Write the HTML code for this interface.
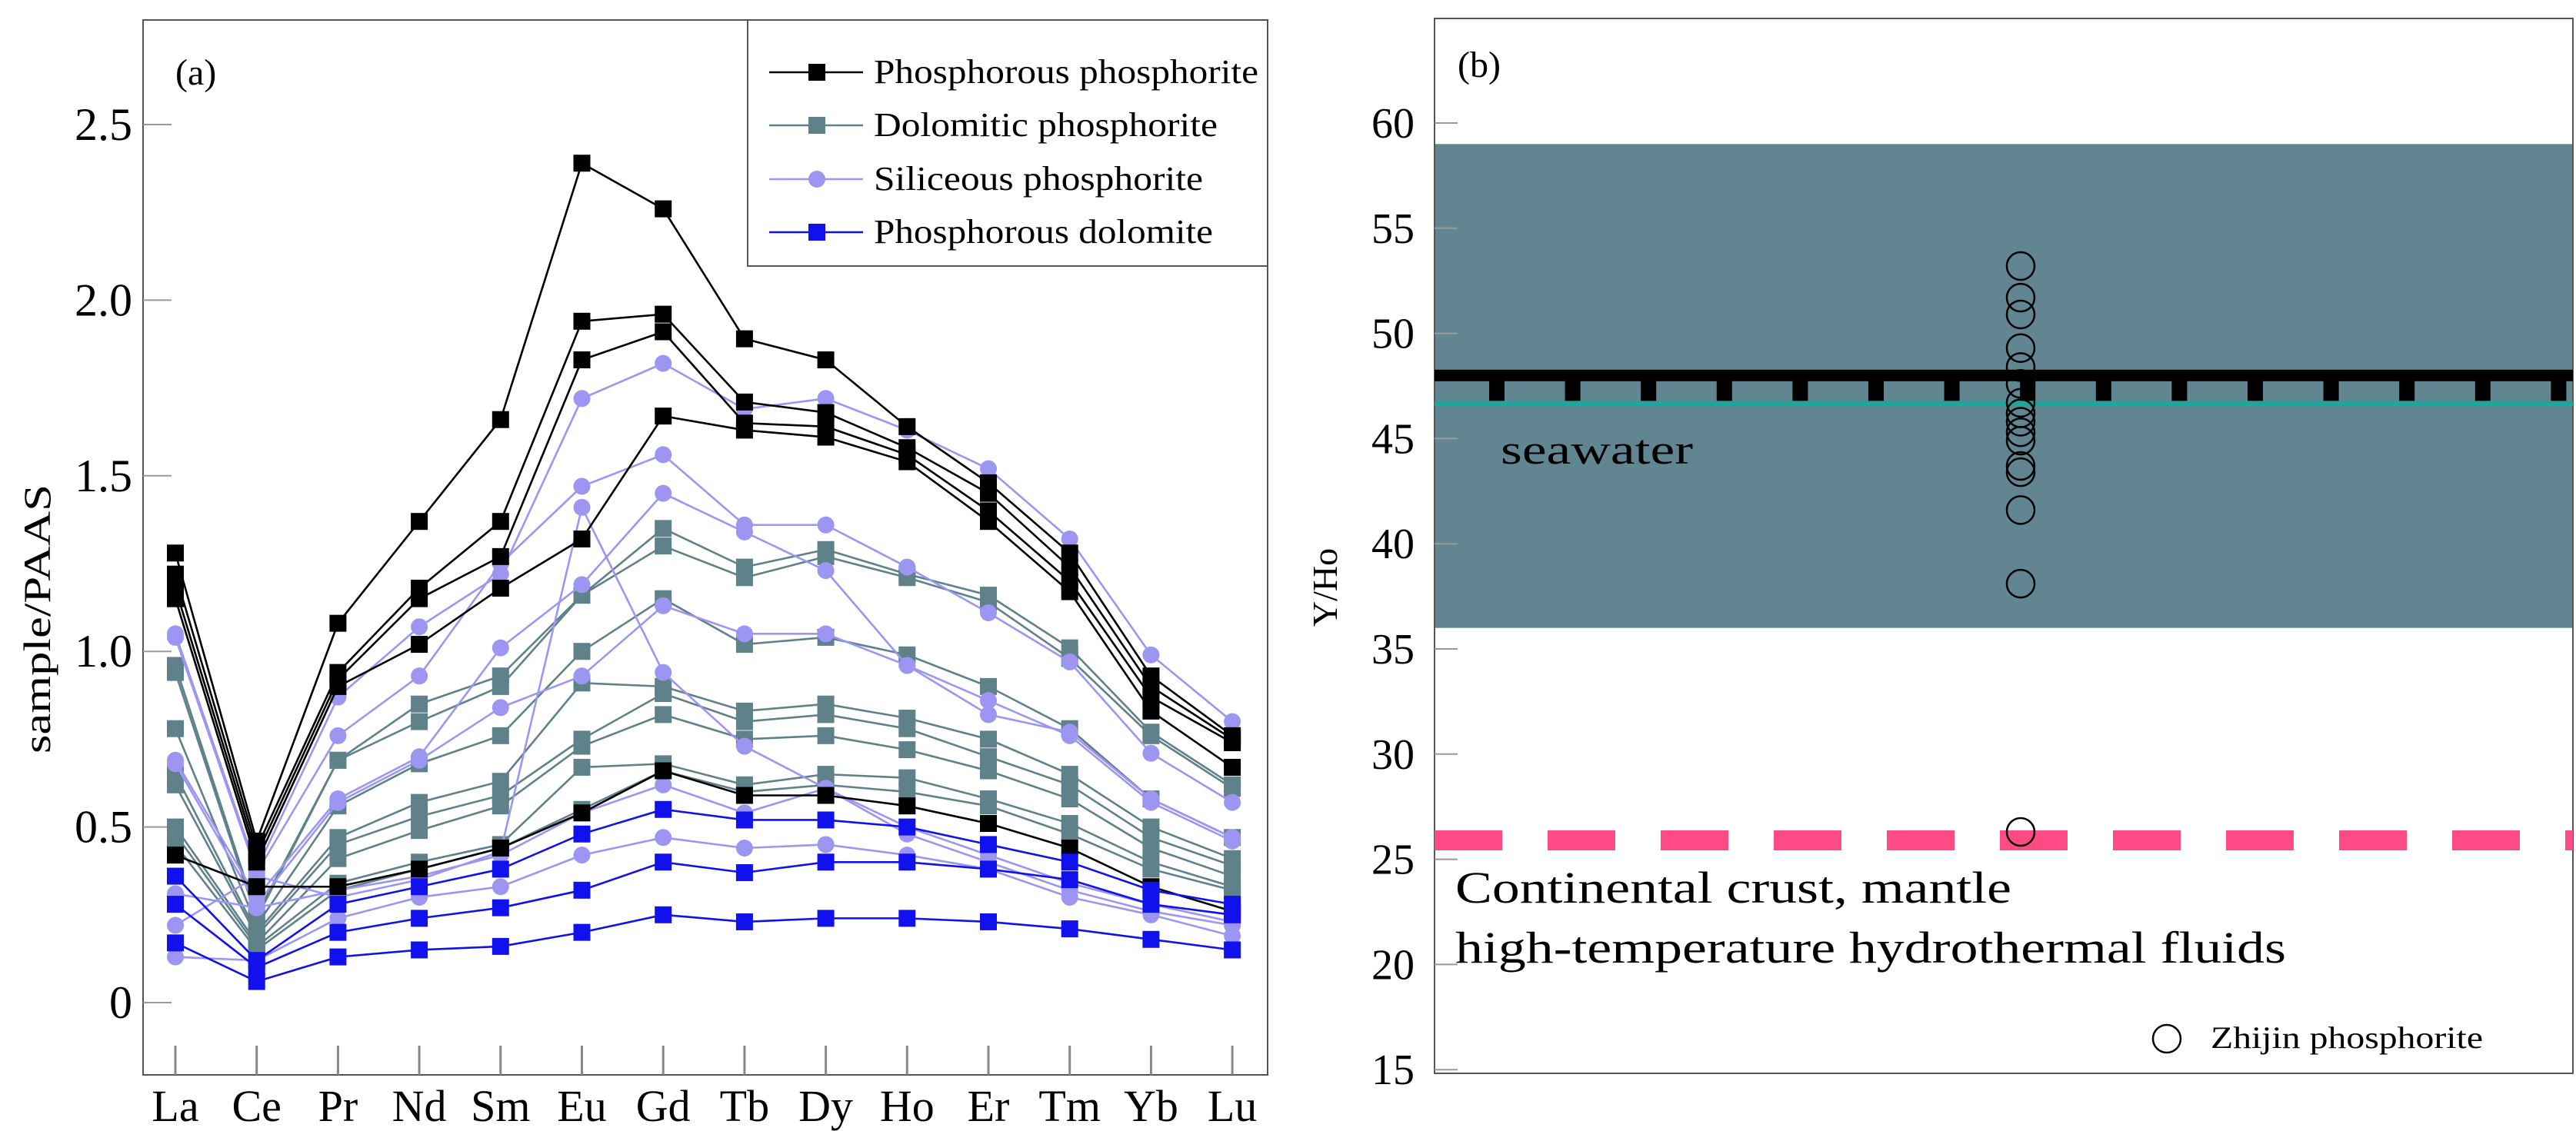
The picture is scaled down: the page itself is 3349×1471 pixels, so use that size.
<!DOCTYPE html>
<html><head><meta charset="utf-8"><style>
html,body{margin:0;padding:0;background:#fff;}
svg{display:block;font-family:"Liberation Serif","DejaVu Serif",serif;}
</style></head><body>
<svg id="chart" width="3349" height="1471" viewBox="0 0 3349 1471" xmlns="http://www.w3.org/2000/svg">
<g id="pa"></g>
<g id="pb"></g>
</svg>
<script>
// ===== Panel (a) data =====
const elements = ["La","Ce","Pr","Nd","Sm","Eu","Gd","Tb","Dy","Ho","Er","Tm","Yb","Lu"];
const yTicksA = [0,0.5,1.0,1.5,2.0,2.5];
const yTickLabelsA = ["0","0.5","1.0","1.5","2.0","2.5"];
const dolomiticPhosphorite = [
 [0.96,0.25,0.69,0.85,0.93,1.16,1.35,1.24,1.29,1.22,1.16,1.01,0.77,0.62],
 [0.94,0.24,0.69,0.80,0.90,1.16,1.30,1.21,1.27,1.21,1.14,0.98,0.76,0.61],
 [0.78,0.22,0.56,0.68,0.76,1.00,1.15,1.02,1.04,0.99,0.90,0.78,0.58,0.47],
 [0.65,0.20,0.47,0.57,0.63,0.91,0.90,0.83,0.85,0.81,0.75,0.65,0.50,0.41],
 [0.62,0.19,0.45,0.53,0.59,0.75,0.88,0.80,0.82,0.78,0.70,0.62,0.47,0.39],
 [0.50,0.17,0.41,0.49,0.56,0.73,0.82,0.75,0.76,0.72,0.66,0.58,0.44,0.36],
 [0.48,0.16,0.34,0.40,0.45,0.67,0.68,0.62,0.65,0.64,0.58,0.51,0.40,0.33],
 [0.45,0.15,0.32,0.38,0.44,0.55,0.66,0.60,0.62,0.60,0.56,0.48,0.38,0.32]
];
const siliceousPhosphorite = [
 [1.05,0.38,0.87,1.07,1.22,1.72,1.82,1.69,1.72,1.63,1.52,1.32,0.99,0.80],
 [1.04,0.37,0.76,0.93,1.25,1.47,1.56,1.36,1.36,1.24,1.11,0.97,0.71,0.57],
 [0.69,0.30,0.58,0.70,1.01,1.19,1.45,1.34,1.23,0.96,0.82,0.77,0.58,0.47],
 [0.68,0.28,0.57,0.69,0.84,0.93,1.13,1.05,1.05,0.96,0.86,0.76,0.57,0.46],
 [0.22,0.36,0.30,0.35,0.43,1.41,0.94,0.73,0.61,0.48,0.40,0.32,0.26,0.22],
 [0.31,0.27,0.32,0.36,0.42,0.54,0.62,0.54,0.61,0.50,0.42,0.34,0.28,0.23],
 [0.13,0.12,0.24,0.30,0.33,0.42,0.47,0.44,0.45,0.42,0.38,0.30,0.25,0.19]
];
const phosphorousPhosphorite = [
 [1.28,0.46,1.08,1.37,1.66,2.39,2.26,1.89,1.83,1.64,1.48,1.28,0.93,0.76],
 [1.22,0.44,0.94,1.18,1.37,1.94,1.96,1.71,1.68,1.58,1.45,1.24,0.90,0.75],
 [1.18,0.42,0.92,1.15,1.27,1.83,1.91,1.65,1.64,1.56,1.40,1.20,0.87,0.74],
 [1.15,0.40,0.90,1.02,1.18,1.32,1.67,1.63,1.61,1.54,1.37,1.17,0.83,0.67],
 [0.42,0.33,0.33,0.38,0.44,0.54,0.66,0.59,0.59,0.56,0.51,0.44,0.33,0.26]
];
const phosphorousDolomite = [
 [0.36,0.12,0.28,0.33,0.38,0.48,0.55,0.52,0.52,0.50,0.45,0.40,0.32,0.28],
 [0.28,0.10,0.20,0.24,0.27,0.32,0.40,0.37,0.40,0.40,0.38,0.35,0.28,0.25],
 [0.17,0.06,0.13,0.15,0.16,0.20,0.25,0.23,0.24,0.24,0.23,0.21,0.18,0.15]
];
// ===== Panel (b) data =====
const yTicksB = [15,20,25,30,35,40,45,50,55,60];
const zhijinYHo = [53.2,51.7,50.9,49.3,48.4,47.6,46.7,46.2,45.8,45.3,44.9,43.7,43.4,41.6,38.1,26.3];
const seawaterBand = [36, 59];
const seawaterLine = [48.0];
const seawaterLine2 = [46.65];
const crustLine = [25.9];

const NS="http://www.w3.org/2000/svg";
function mk(parent, tag, attrs, text){
  const e=document.createElementNS(NS,tag);
  for(const k in attrs) e.setAttribute(k,attrs[k]);
  if(text!==undefined) e.textContent=text;
  parent.appendChild(e); return e;
}
// ----- Panel a -----
const pa=document.getElementById('pa');
const ax = i => 228 + i*105.7;
const ay = v => 1304 - v*456.8;
const A={l:186,r:1648,t:26,b:1398};
let e;
e=mk(pa,'rect',{x:A.l,y:A.t,width:A.r-A.l,height:A.b-A.t,fill:'none',stroke:'#555','stroke-width':2});


yTicksA.forEach((v,i)=>{
  e=mk(pa,'line',{x1:A.l,x2:A.l+37,y1:ay(v),y2:ay(v),stroke:'#999','stroke-width':2});
  
  
  e=mk(pa,'text',{x:172,y:ay(v)+20,'text-anchor':'end','font-size':60},yTickLabelsA[i]);
  
  
});
elements.forEach((n,i)=>{
  e=mk(pa,'line',{x1:ax(i),x2:ax(i),y1:A.b,y2:A.b-38,stroke:'#888','stroke-width':3});
  
  
  e=mk(pa,'text',{x:ax(i),y:1458,'text-anchor':'middle','font-size':58},n);
  
  
});
e=mk(pa,'text',{x:0,y:0,transform:'translate(65,805) rotate(-90)','text-anchor':'middle','font-size':50,textLength:350,lengthAdjust:'spacingAndGlyphs'},'sample/PAAS');


e=mk(pa,'text',{x:228,y:110,'font-size':48},'(a)');



function drawSeries(arr,color,shape,name){
  arr.forEach(s=>{
    const g=mk(pa,'g',{});
    
    
    const pts=s.map((v,i)=>ax(i)+','+ay(v)).join(' ');
    e=mk(g,'polyline',{points:pts,fill:'none',stroke:color,'stroke-width':2.6});
    
    
    s.forEach((v,i)=>{
      if(shape==='sq') e=mk(g,'rect',{x:ax(i)-11,y:ay(v)-11,width:22,height:22,fill:color});
      else e=mk(g,'circle',{cx:ax(i),cy:ay(v),r:11,fill:color});
      
      
    });
  });
}
drawSeries(dolomiticPhosphorite,'#5f8189','sq','dolomitic-phosphorite');
drawSeries(siliceousPhosphorite,'#9c96f2','ci','siliceous-phosphorite');
drawSeries(phosphorousPhosphorite,'#000000','sq','phosphorous-phosphorite');
drawSeries(phosphorousDolomite,'#1111ee','sq','phosphorous-dolomite');

// legend
const lg=mk(pa,'g',{});


mk(lg,'rect',{x:972,y:26,width:676,height:320,fill:'#fff',stroke:'#555','stroke-width':2});
const legItems=[["Phosphorous phosphorite",'#000','sq',500],["Dolomitic phosphorite",'#5f8189','sq',447],["Siliceous phosphorite",'#9c96f2','ci',428],["Phosphorous dolomite",'#1111ee','sq',441]];
const legY=[94,163,233,302];
legItems.forEach((it,i)=>{
  const g=mk(lg,'g',{});
  
  
  mk(g,'line',{x1:1000,x2:1122,y1:legY[i],y2:legY[i],stroke:it[1],'stroke-width':2.6});
  if(it[2]==='sq') mk(g,'rect',{x:1051,y:legY[i]-11,width:22,height:22,fill:it[1]});
  else mk(g,'circle',{cx:1062,cy:legY[i],r:11,fill:it[1]});
  mk(g,'text',{x:1136,y:legY[i]+14,'font-size':44,textLength:it[3],lengthAdjust:'spacingAndGlyphs'},it[0]);
});

// ----- Panel b -----
const pb=document.getElementById('pb');
const B={l:1865,r:3345,t:24,b:1396};
const by = v => 160 + (60-v)*27.36;
e=mk(pb,'rect',{x:B.l,y:by(seawaterBand[1]),width:B.r-B.l,height:by(seawaterBand[0])-by(seawaterBand[1]),fill:'#618591'});


e=mk(pb,'rect',{x:B.l,y:B.t,width:B.r-B.l,height:B.b-B.t,fill:'none',stroke:'#555','stroke-width':2});


yTicksB.forEach(v=>{
  e=mk(pb,'line',{x1:B.l,x2:B.l+30,y1:by(v),y2:by(v),stroke:'#999','stroke-width':2});
  
  
  e=mk(pb,'text',{x:1839,y:by(v)+19,'text-anchor':'end','font-size':56},String(v));
  
  
});
e=mk(pb,'text',{x:0,y:0,transform:'translate(1738,764) rotate(-90)','text-anchor':'middle','font-size':46},'Y/Ho');


e=mk(pb,'text',{x:1895,y:100,'font-size':48},'(b)');


// seawater black line with teeth
e=mk(pb,'rect',{x:B.l,y:by(seawaterLine[0])-7.5,width:B.r-B.l,height:15,fill:'#000'});


for(let k=0;k<15;k++){
  e=mk(pb,'rect',{x:1946+k*98.6-10,y:by(seawaterLine[0]),width:20,height:33,fill:'#000'});
  
  
}
e=mk(pb,'line',{x1:B.l,x2:B.r,y1:by(seawaterLine2[0]),y2:by(seawaterLine2[0]),stroke:'#1aa79c','stroke-width':6});


e=mk(pb,'text',{x:1951,y:603,'font-size':54,textLength:250,lengthAdjust:'spacingAndGlyphs'},'seawater');


e=mk(pb,'line',{x1:B.l,x2:B.r,y1:by(crustLine[0]),y2:by(crustLine[0]),stroke:'#ff4b85','stroke-width':26,'stroke-dasharray':'88 59'});


zhijinYHo.forEach(v=>{
  e=mk(pb,'circle',{cx:2627,cy:by(v),r:18,fill:'none',stroke:'#000','stroke-width':2.5});
  
  
});
e=mk(pb,'text',{x:1892,y:1174,'font-size':58,textLength:723,lengthAdjust:'spacingAndGlyphs'},'Continental crust, mantle');


e=mk(pb,'text',{x:1892,y:1252,'font-size':58,textLength:1080,lengthAdjust:'spacingAndGlyphs'},'high-temperature hydrothermal fluids');


const lb=mk(pb,'g',{});


mk(lb,'circle',{cx:2817,cy:1351,r:18,fill:'none',stroke:'#000','stroke-width':2.5});
mk(lb,'text',{x:2874,y:1363,'font-size':40,textLength:354,lengthAdjust:'spacingAndGlyphs'},'Zhijin phosphorite');
</script>
</body></html>
